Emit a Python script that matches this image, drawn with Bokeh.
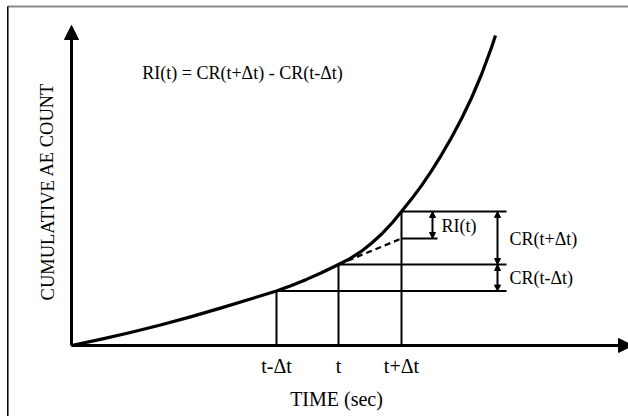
from bokeh.plotting import figure
from bokeh.models import Arrow, NormalHead, Range1d
from bokeh.core.properties import value
from bokeh.embed import file_html
from bokeh.resources import INLINE

# ---- data (schematic units: time offset / cumulative count) ----
curve_x = [0, 29, 59, 89, 119, 149, 179, 205, 220, 235, 250, 267, 278, 289, 300, 311, 321,
           330, 340, 350, 360, 370, 380, 390, 400, 410, 420, 424]
curve_y = [0, 6.1, 13, 20.5, 28.6, 37.4, 46.5, 54.5, 60.1, 66.1, 72.7, 81, 86.6, 93.6, 102.2,
           112.3, 123.0, 134, 146.4, 159.9, 174.7, 190.7, 207.9, 226.7, 247.5, 271, 298, 310]

tick_names = ["t-\u0394t", "t", "t+\u0394t"]
tick_x = [205, 267, 330]          # t-dt, t, t+dt
level_y = [54.5, 81, 134]         # CR at t-dt, t, t+dt
tangent_end_y = 107               # extrapolated tangent value at t+dt

x_axis_end = 561
y_axis_end = 320
bracket_end = 435
ri_line_end = 366
ri_arrow_x = 361
cr_arrow_x = 426

FONT = value("Liberation Serif")

p = figure(width=628, height=416, output_backend="svg", toolbar_location=None,
           x_range=Range1d(-71, 557), y_range=Range1d(-71, 345),
           min_border=0, outline_line_color=None)
p.xaxis.visible = False
p.yaxis.visible = False
p.grid.visible = False
p.background_fill_color = "white"
p.border_fill_color = "white"

# frame lines
p.line([-64, 557], [339, 339], line_color="#8a8a8a", line_width=2)
p.line([-63.7, -63.7], [-71, 339], line_color="black", line_width=1.5)

# axes with arrow heads
p.add_layout(Arrow(end=NormalHead(size=14, fill_color="black", line_color="black"),
                   x_start=0, y_start=0, x_end=0, y_end=y_axis_end,
                   line_width=3, line_color="black"))
p.add_layout(Arrow(end=NormalHead(size=14, fill_color="black", line_color="black"),
                   x_start=0, y_start=0, x_end=x_axis_end, y_end=0,
                   line_width=3, line_color="black"))

# curve
p.line(curve_x, curve_y, line_color="black", line_width=3.2, line_join="round")

# vertical drop lines
for xv, yv in zip(tick_x, level_y):
    p.line([xv, xv], [0, yv], line_color="black", line_width=2)

# horizontal level lines
for xv, yv in zip(tick_x, level_y):
    p.line([xv, bracket_end], [yv, yv], line_color="black", line_width=2)

# tangent (dashed)
p.line([tick_x[1], tick_x[2]], [level_y[1], tangent_end_y], line_color="black",
       line_width=2.2, line_dash="6 4")
p.line([tick_x[2], ri_line_end], [tangent_end_y, tangent_end_y], line_color="black", line_width=2)

# double arrows
def dbl(x, y0, y1):
    p.add_layout(Arrow(start=NormalHead(size=6, fill_color="black", line_color="black"),
                       end=NormalHead(size=6, fill_color="black", line_color="black"),
                       x_start=x, y_start=y0, x_end=x, y_end=y1,
                       line_width=2, line_color="black"))

dbl(ri_arrow_x, tangent_end_y, level_y[2])
dbl(cr_arrow_x, level_y[1], level_y[2])
dbl(cr_arrow_x, level_y[0], level_y[1])

# texts
p.text(x=[171], y=[273], text=["RI(t) = CR(t+\u0394t) - CR(t-\u0394t)"], text_font=FONT,
       text_font_size="18px", text_align="center", text_baseline="middle", text_color="black")
p.text(x=[-24], y=[154], text=["CUMULATIVE AE COUNT"], angle=1.5708, text_font=FONT,
       text_font_size="18.5px", text_align="center", text_baseline="middle", text_color="black")
p.text(x=tick_x, y=[-20] * 3, text=tick_names, text_font=FONT,
       text_font_size="20px", text_align="center", text_baseline="middle", text_color="black")
p.text(x=[265], y=[-53], text=["TIME (sec)"], text_font=FONT,
       text_font_size="20px", text_align="center", text_baseline="middle", text_color="black")
p.text(x=[370], y=[120], text=["RI(t)"], text_font=FONT,
       text_font_size="18px", text_align="left", text_baseline="middle", text_color="black")
p.text(x=[438], y=[107], text=["CR(t+\u0394t)"], text_font=FONT,
       text_font_size="18px", text_align="left", text_baseline="middle", text_color="black")
p.text(x=[438], y=[68], text=["CR(t-\u0394t)"], text_font=FONT,
       text_font_size="18px", text_align="left", text_baseline="middle", text_color="black")

open("out.html", "w").write(file_html(p, INLINE))
